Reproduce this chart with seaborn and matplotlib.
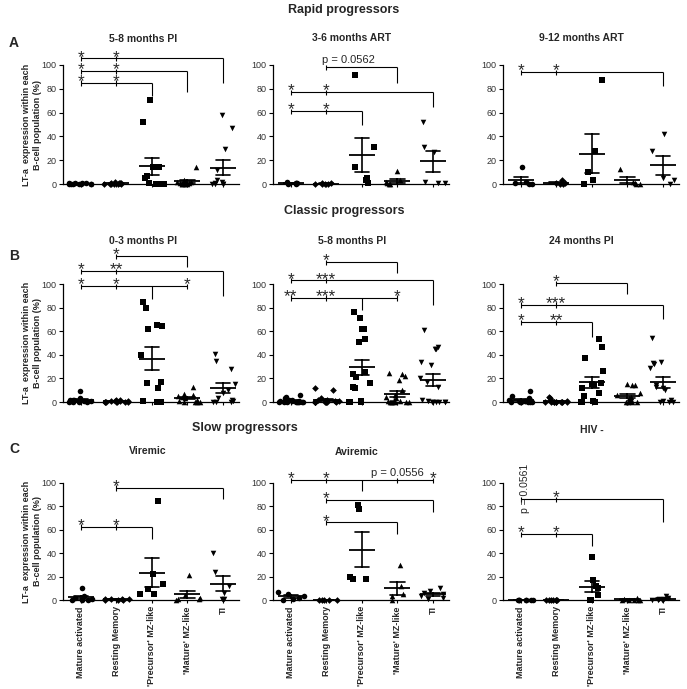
import numpy as np
import pandas as pd
import matplotlib
matplotlib.use("Agg")
import matplotlib.pyplot as plt
from matplotlib.font_manager import FontProperties
import seaborn as sns

# ---------------- data ----------------
CATEGORIES = ["Mature activated", "Resting Memory", "'Precursor' MZ-like",
              "'Mature' MZ-like", "TI"]

# Rapid progressors
rapid_5_8_pi = [
    [1, 0.5, 0.5, 0, 0, 0, 0, 0, 0.5, 0, 0],
    [2, 1, 1, 0.5, 0.5, 0, 0, 0, 0, 0, 0],
    [71, 52, 14, 14, 7, 5, 1, 0, 0, 0, 0],
    [14, 3, 2, 2, 1, 1, 1, 0, 0, 0, 0],
    [58, 47, 29, 12, 3, 2, 1, 0, 0, 0, 0],
]
rapid_3_6_art = [
    [2, 1, 1, 0.5, 0, 0],
    [1, 0.5, 0, 0, 0, 0],
    [92, 31, 14, 5, 3, 1],
    [11, 3, 2, 1, 0, 0],
    [52, 31, 27, 2, 1, 1],
]
rapid_9_12_art = [
    [14, 2, 1, 0, 0],
    [3, 1, 0.5, 0, 0],
    [87, 28, 10, 3, 0],
    [13, 2, 1, 0, 0],
    [42, 28, 5, 3, 0],
]
# Classic progressors
classic_0_3_pi = [
    [9, 3, 2, 2, 2, 1, 1, 1, 0, 0, 0, 0],
    [2, 1.5, 1, 1, 1, 0.5, 0, 0, 0, 0, 0, 0],
    [85, 80, 65, 64.5, 61.5, 40, 17, 16, 11.5, 1, 0, 0],
    [13, 7, 6, 5, 4, 3, 2, 1, 0, 0, 0, 0],
    [41, 35, 28, 15, 10, 8, 3, 2, 1, 0, 0, 0],
]
classic_5_8_pi = [
    [6, 4, 3, 2, 2, 1, 1, 1, 0, 0, 0, 0, 0, 0, 0, 0, 0],
    [12, 10, 3, 2, 2, 1, 1, 0.5, 0, 0, 0, 0, 0, 0, 0, 0, 0],
    [76, 71, 61.5, 61.5, 53, 50.5, 25.5, 24, 21.5, 16.5, 12.5, 12, 12, 1, 0, 0, 0],
    [25, 24, 22, 19, 10, 6, 4, 3, 2, 1, 1, 0, 0, 0, 0, 0, 0],
    [61, 47, 45, 45, 34, 31, 20, 17, 13, 2, 1, 0, 0, 0, 0, 0, 0],
]
classic_24_pi = [
    [9, 5, 3, 2, 2, 1, 1, 1, 0, 0, 0, 0, 0, 0],
    [4, 3, 1, 1, 0, 0, 0, 0, 0, 0, 0, 0, 0, 0],
    [53, 47, 37, 26, 16, 15, 14, 12, 8, 5, 1, 0, 0, 0],
    [15, 14, 14, 8, 6, 4, 3, 2, 1, 1, 0, 0, 0, 0],
    [54, 34, 33, 32, 29, 14, 13, 12, 10, 2, 1, 0, 0, 0],
]
# Slow progressors / HIV-
slow_viremic = [
    [10, 3, 2, 1, 0, 0, 0],
    [1, 1, 0.5, 0.5, 0, 0, 0],
    [85, 22, 14, 9, 5, 5],
    [21, 4, 2, 1, 1, 0],
    [40, 24, 12, 6, 1, 1],
]
slow_aviremic = [
    [7, 5, 3, 2, 1, 0],
    [0, 0, 0, 0, 0],
    [81.6, 77.7, 20, 17.7, 17.7],
    [30, 12, 5, 3, 0],
    [10, 8, 6, 5, 3, 2, 1],
]
hiv_negative = [
    [0, 0, 0, 0, 0, 0, 0],
    [0, 0, 0, 0, 0, 0, 0],
    [37, 17, 12, 10, 4, 0, 0],
    [2, 1, 0, 0, 0, 0, 0],
    [3, 2, 1, 1, 0, 0, 0],
]

TITLES = ["5-8 months PI", "3-6 months ART", "9-12 months ART",
          "0-3 months PI", "5-8 months PI", "24 months PI",
          "Viremic", "Aviremic", "HIV -"]

# significance brackets: (height, drop category, drop end, [(category, label)])
BRACKETS = [
    [(85, 2, 74, [(0, "*"), (1, "*")]),
     (95, 3, 77.5, [(0, "*"), (1, "*")]),
     (105.5, 4, 84.6, [(0, "*"), (1, "*")])],
    [(61, 2, 50, [(0, "*"), (1, "*")]),
     (77, 4, 65, [(0, "*"), (1, "*")]),
     (98, 3, 85, [(1, "p = 0.0562")])],
    [(94, 4, 82, [(0, "*"), (1, "*")])],
    [(98.3, 2, 87, [(0, "*"), (1, "*"), (3, "*")]),
     (111, 4, 89.5, [(0, "*"), (1, "**")]),
     (123.7, 3, 114, [(1, "*")])],
    [(88.5, 2, 77.7, [(0, "**"), (1, "***"), (3, "*")]),
     (103, 4, 82.5, [(0, "*"), (1, "***")]),
     (118.6, 3, 109, [(1, "*")])],
    [(67.8, 2, 55, [(0, "*"), (1, "**")]),
     (82.5, 4, 70.7, [(0, "*"), (1, "***")]),
     (100.8, 3, 91.3, [(1, "*")])],
    [(62.6, 2, 51.9, [(0, "*"), (1, "*")]),
     (96, 4, 86, [(1, "*")])],
    [(102.3, 2, 93, [(0, "*"), (1, "*"), (3, "p = 0.0556"), (4, "*")]),
     (85.3, 4, 75.4, [(1, "*")]),
     (66.3, 3, 56, [(1, "*")])],
    [(56.4, 2, 46.4, [(0, "*"), (1, "*")]),
     (86.1, 4, 66.8, [(0, "p = 0.0561"), (1, "*")])],
]

MARKERS = ["o", "D", "s", "^", "v"]
SIZES = [4.0, 3.4, 4.0, 4.0, 4.0]
STAR_FS = 12.5

# ---------------- figure ----------------
sns.set_style("ticks")
plt.rcParams['font.family'] = ['Liberation Sans', 'DejaVu Sans']
np.random.seed(3)

W, H = 687, 689
DPI = 100
fig = plt.figure(figsize=(W / DPI, H / DPI), dpi=DPI)
renderer = fig.canvas.get_renderer()
_, LP_H, LP_D = renderer.get_text_width_height_descent(
    "lp", FontProperties(size=STAR_FS), ismath=False)
LP_D_PT = LP_D * 72 / DPI
STAR_BASE_PT = 3.0 - 0.425 * STAR_FS   # star baseline relative to bracket line

col_left = [63, 273, 503]
col_width = 176
rows = [(184, 119), (402, 118), (600, 117)]  # (pixel of y=0, pixel height of 0..100)

YLABEL = "LT-a  expression within each\nB-cell population (%)"
LKW = dict(color="black", lw=0.8, clip_on=False, solid_capstyle="butt")


def draw_brackets(ax, brackets, px_per_unit):
    groups = {}
    for y, drop_cat, drop_to, labels in brackets:
        xs = [lab[0] for lab in labels] + [drop_cat]
        ax.plot([min(xs), max(xs)], [y, y], **LKW)
        ax.plot([drop_cat, drop_cat], [y, drop_to], **LKW)
        for c, text in labels:
            ax.plot([c, c], [y - 2.5, y + 2.0], **LKW)
            if text == "p = 0.0561":
                ax.text(c + 0.12, 95, text, rotation=90, ha="center", va="center",
                        fontsize=7.5, clip_on=False)
            elif text == "p = 0.0562":
                ax.annotate(text, xy=(c - 0.12, y), xytext=(0, 1.5),
                            textcoords="offset points", ha="left", va="bottom",
                            fontsize=8, annotation_clip=False)
            elif text.startswith("p"):
                ax.annotate(text, xy=(c, y), xytext=(0, 1.5),
                            textcoords="offset points", ha="center", va="bottom",
                            fontsize=8, annotation_clip=False)
            else:
                groups.setdefault(c, []).append((y, text))
    # stars: stacked stars in one column that sit close together are set as one
    # multi-line text whose baseline pitch equals the bracket spacing
    for c, items in groups.items():
        items.sort()
        clusters = [[items[0]]]
        for it in items[1:]:
            if (it[0] - clusters[-1][-1][0]) * px_per_unit < LP_H + 1:
                clusters[-1].append(it)
            else:
                clusters.append([it])
        for cl in clusters:
            ls = 1.0
            if len(cl) > 1:
                pitch_px = (cl[-1][0] - cl[0][0]) / (len(cl) - 1) * px_per_unit
                ls = (pitch_px - LP_D) / (LP_H - LP_D)
            s = "\n".join(t for _, t in reversed(cl))
            ax.annotate(s, xy=(c, cl[0][0]), xytext=(0, STAR_BASE_PT - LP_D_PT),
                        textcoords="offset points", ha="center", va="bottom",
                        multialignment="center", linespacing=ls,
                        fontsize=STAR_FS, annotation_clip=False)


panels = [rapid_5_8_pi, rapid_3_6_art, rapid_9_12_art,
          classic_0_3_pi, classic_5_8_pi, classic_24_pi,
          slow_viremic, slow_aviremic, hiv_negative]

for i, values in enumerate(panels):
    r, c = divmod(i, 3)
    y0, hp = rows[r]
    rect = [col_left[c] / W, (H - y0) / H, col_width / W, hp / H]
    ax = fig.add_axes(rect)
    ax.patch.set_alpha(0)
    df = pd.DataFrame({
        "cat": np.repeat(CATEGORIES, [len(v) for v in values]),
        "val": np.concatenate([np.asarray(v, float) for v in values]),
    })
    for cat, m, sz in zip(CATEGORIES, MARKERS, SIZES):
        sns.stripplot(data=df[df["cat"] == cat], x="cat", y="val", order=CATEGORIES,
                      marker=m, color="black", size=sz, jitter=0.36, linewidth=0, ax=ax)
    sns.pointplot(data=df, x="cat", y="val", order=CATEGORIES, errorbar="se",
                  capsize=0.4, markers="_", linestyles="none", color="black",
                  markersize=19, markeredgewidth=1.3,
                  err_kws={"linewidth": 1.2}, ax=ax)
    for art in list(ax.collections) + list(ax.lines):
        art.set_clip_on(False)

    ax.set_ylim(0, 100)
    ax.set_xlim(-0.5, 4.45)
    ax.set_yticks([0, 20, 40, 60, 80, 100])
    sns.despine(ax=ax)
    ax.spines["left"].set_bounds(0, 100)
    for s in ("left", "bottom"):
        ax.spines[s].set_linewidth(0.9)
        ax.spines[s].set_color("black")
    ax.tick_params(axis="y", length=3, width=0.8, labelsize=6.5, pad=1.5,
                   labelcolor="#333333", color="black")
    ax.tick_params(axis="x", length=2.5, width=0.8, color="black", pad=2)
    ax.set_xlabel("")
    ax.set_xticks(range(5))
    if r == 2:
        ax.set_xticklabels(CATEGORIES, rotation=90, fontsize=6.5, fontweight="bold")
    else:
        ax.set_xticklabels([])
    if c == 0:
        ax.set_ylabel(YLABEL, fontsize=6.5, fontweight="bold", linespacing=1.25)
        ax.yaxis.set_label_coords(-0.12, 0.5)
    else:
        ax.set_ylabel("")

    draw_brackets(ax, BRACKETS[i], hp / 100.0)

# ---------------- titles ----------------
def ftext(xp, yp, s, **kw):
    fig.text(xp / W, 1 - yp / H, s, ha="center", va="center", **kw)

ftext(344, 10, "Rapid progressors", fontsize=9, fontweight="bold")
ftext(344, 211, "Classic progressors", fontsize=9, fontweight="bold")
ftext(245, 428, "Slow progressors", fontsize=9, fontweight="bold")
ftext(14, 43, "A", fontsize=10, fontweight="bold")
ftext(14, 256, "B", fontsize=10, fontweight="bold")
ftext(14, 449, "C", fontsize=10, fontweight="bold")

title_pos = [(143, 39), (352, 38), (581, 38),
             (143, 241), (352, 241), (581, 241),
             (148, 451), (357, 452), (592, 430)]
for (xp, yp), t in zip(title_pos, TITLES):
    ftext(xp, yp, t, fontsize=7.5, fontweight="bold")

fig.savefig("out.png", dpi=DPI)
